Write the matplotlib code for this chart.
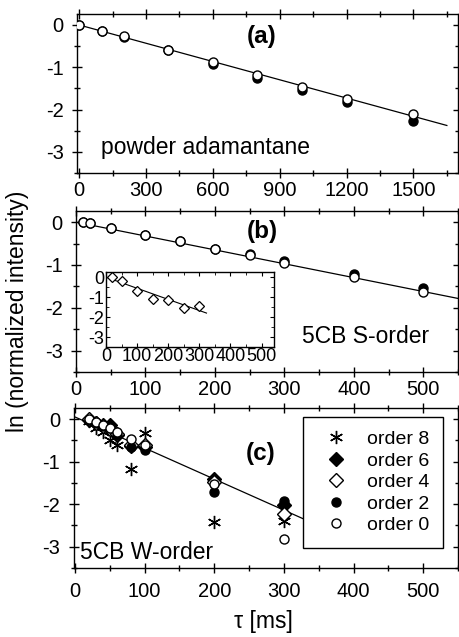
import numpy as np
import matplotlib
matplotlib.use('Agg')
import matplotlib.pyplot as plt
from matplotlib.ticker import MultipleLocator

plt.rcParams['font.family'] = ['Liberation Sans', 'DejaVu Sans']
plt.rcParams['axes.unicode_minus'] = False
plt.rcParams['axes.linewidth'] = 1.0

# (a) powder adamantane
tau_a = [0, 100, 200, 400, 600, 800, 1000, 1200, 1500]
a_order0 = [0.0, -0.14, -0.27, -0.59, -0.88, -1.18, -1.47, -1.74, -2.11]
a_order2 = [0.0, -0.14, -0.28, -0.60, -0.92, -1.25, -1.54, -1.83, -2.26]
a_fit = (0.0, -0.00144)   # intercept, slope
a_fit_end = 1650

# (b) 5CB S-order
tau_b = [10, 20, 50, 100, 150, 200, 250, 300, 400, 500]
b_order0 = [0.0, -0.02, -0.13, -0.29, -0.45, -0.62, -0.76, -0.95, -1.28, -1.62]
b_order2 = [0.0, -0.02, -0.13, -0.29, -0.45, -0.62, -0.75, -0.90, -1.20, -1.53]
b_fit = (0.0, -0.00324)
b_fit_end = 550

# inset of (b)
tau_in = [20, 50, 100, 150, 200, 250, 300]
in_order4 = [0.0, -0.20, -0.67, -1.08, -1.12, -1.52, -1.42]
in_fit = (0.0, -0.00557)
in_fit_end = 323

# (c) 5CB W-order
tau_c = [20, 30, 40, 50, 60, 80, 100, 200, 300]
c_order8 = [-0.05, -0.20, -0.30, -0.50, -0.60, -1.17, -0.33, -2.43, -2.40]
c_order6 = [-0.02, -0.10, -0.15, -0.15, -0.38, -0.63, -0.66, -1.42, -2.03]
c_order4 = [0.0, -0.09, -0.16, -0.23, -0.35, -0.60, -0.60, -1.48, -2.22]
c_order2 = [-0.02, -0.10, -0.17, -0.22, -0.38, -0.65, -0.73, -1.71, -1.92]
c_order0 = [0.0, -0.08, -0.15, -0.20, -0.30, -0.48, -0.60, -1.52, -2.82]
c_fit = (0.05, -0.0073)
c_fit_end = 327

W, H = 459, 637
fig = plt.figure(figsize=(W / 100, H / 100), dpi=100)


def px_rect(l, r, t, b):
    return [l / W, 1 - b / H, (r - l) / W, (b - t) / H]


def style_axes(ax, xmajor, xminor, xpad):
    ax.set_ylim(-3.5, 0.26)
    ax.set_yticks([0, -1, -2, -3])
    ax.yaxis.set_minor_locator(MultipleLocator(0.5))
    ax.xaxis.set_major_locator(MultipleLocator(xmajor))
    ax.xaxis.set_minor_locator(MultipleLocator(xminor))
    ax.tick_params(which='both', direction='inout', top=True, right=True, labelsize=14.5)
    ax.tick_params(which='major', length=7, width=1)
    ax.tick_params(which='minor', length=4, width=1)
    ax.tick_params(axis='y', pad=6)
    ax.tick_params(axis='x', pad=xpad)


def fit_line(ax, fit, end, lw=0.9):
    xs = np.array([0, end])
    ax.plot(xs, fit[0] + fit[1] * xs, color='black', lw=lw, zorder=2)


open_kw = dict(ls='none', marker='o', ms=6.5, mfc='white', mec='black', mew=1.0, zorder=4)
fill_kw = dict(ls='none', marker='o', ms=6.5, mfc='black', mec='black', mew=1.0, zorder=3)

# panel (a)
ax_a = fig.add_axes(px_rect(77, 458, 14, 173))
fit_line(ax_a, a_fit, a_fit_end)
ax_a.plot(tau_a, a_order2, **fill_kw)
ax_a.plot(tau_a, a_order0, **open_kw)
ax_a.set_xlim(-10, 1700)
style_axes(ax_a, 300, 150, 2.5)
ax_a.text(0.485, 0.857, '(a)', transform=ax_a.transAxes, ha='center', va='center',
          fontsize=17.5, fontweight='bold')
ax_a.text(0.063, 0.162, 'powder adamantane', transform=ax_a.transAxes, ha='left',
          va='center', fontsize=16.5)

# panel (b)
ax_b = fig.add_axes(px_rect(76, 458, 211, 372))
fit_line(ax_b, b_fit, b_fit_end)
ax_b.plot(tau_b, b_order2, **fill_kw)
ax_b.plot(tau_b, b_order0, **open_kw)
ax_b.set_xlim(0, 550)
style_axes(ax_b, 100, 50, 2.5)
ax_b.text(0.487, 0.871, '(b)', transform=ax_b.transAxes, ha='center', va='center',
          fontsize=17.5, fontweight='bold')
ax_b.text(0.592, 0.219, '5CB S-order', transform=ax_b.transAxes, ha='left',
          va='center', fontsize=16.5)

# inset
ax_in = fig.add_axes(px_rect(106, 274, 272, 347))
fit_line(ax_in, in_fit, in_fit_end, lw=0.8)
ax_in.plot(tau_in, in_order4, ls='none', marker='D', ms=5.5, mfc='white', mec='black', mew=0.9)
ax_in.set_xlim(0, 540)
ax_in.set_ylim(-3.5, 0.26)
ax_in.set_yticks([0, -1, -2, -3])
ax_in.yaxis.set_minor_locator(MultipleLocator(0.5))
ax_in.xaxis.set_major_locator(MultipleLocator(100))
ax_in.xaxis.set_minor_locator(MultipleLocator(50))
ax_in.tick_params(which='both', direction='in', top=True, right=True, labelsize=13, pad=1)
ax_in.tick_params(which='major', length=3)
ax_in.tick_params(which='minor', length=2)

# panel (c)
ax_c = fig.add_axes(px_rect(73.5, 458, 408, 568))
fit_line(ax_c, c_fit, c_fit_end)
ax_c.plot(tau_c, c_order8, ls='none', marker=(6, 2, 0), ms=9.5, mec='black', mew=1.0,
          label='order 8', zorder=3)
ax_c.plot(tau_c, c_order6, ls='none', marker='D', ms=7, mfc='black', mec='black', mew=1.0,
          label='order 6', zorder=3)
ax_c.plot(tau_c, c_order4, ls='none', marker='D', ms=7, mfc='white', mec='black', mew=1.0,
          label='order 4', zorder=4)
ax_c.plot(tau_c, c_order2, ls='none', marker='o', ms=6.5, mfc='black', mec='black', mew=1.0,
          label='order 2', zorder=4)
ax_c.plot(tau_c, c_order0, ls='none', marker='o', ms=6.5, mfc='white', mec='black', mew=1.0,
          label='order 0', zorder=5)
ax_c.set_xlim(-2, 550)
style_axes(ax_c, 100, 50, 6.5)
ax_c.text(0.486, 0.717, '(c)', transform=ax_c.transAxes, ha='center', va='center',
          fontsize=17.5, fontweight='bold')
ax_c.text(0.018, 0.096, '5CB W-order', transform=ax_c.transAxes, ha='left',
          va='center', fontsize=16.5)
leg = ax_c.legend(loc='upper right', bbox_to_anchor=(0.961, 0.944), fontsize=14,
                  frameon=True, fancybox=False, framealpha=1, edgecolor='black',
                  handlelength=2.0, handletextpad=0.6, borderpad=0.7, labelspacing=0.2,
                  borderaxespad=0)
leg.get_frame().set_linewidth(1.0)

fig.text(0.039, 0.512, 'ln (normalized intensity)', rotation=90, ha='center', va='center',
         fontsize=16.5)
fig.text(0.575, 0.024, 'τ [ms]', ha='center', va='center', fontsize=16.5)

fig.savefig('out.png', dpi=100)
